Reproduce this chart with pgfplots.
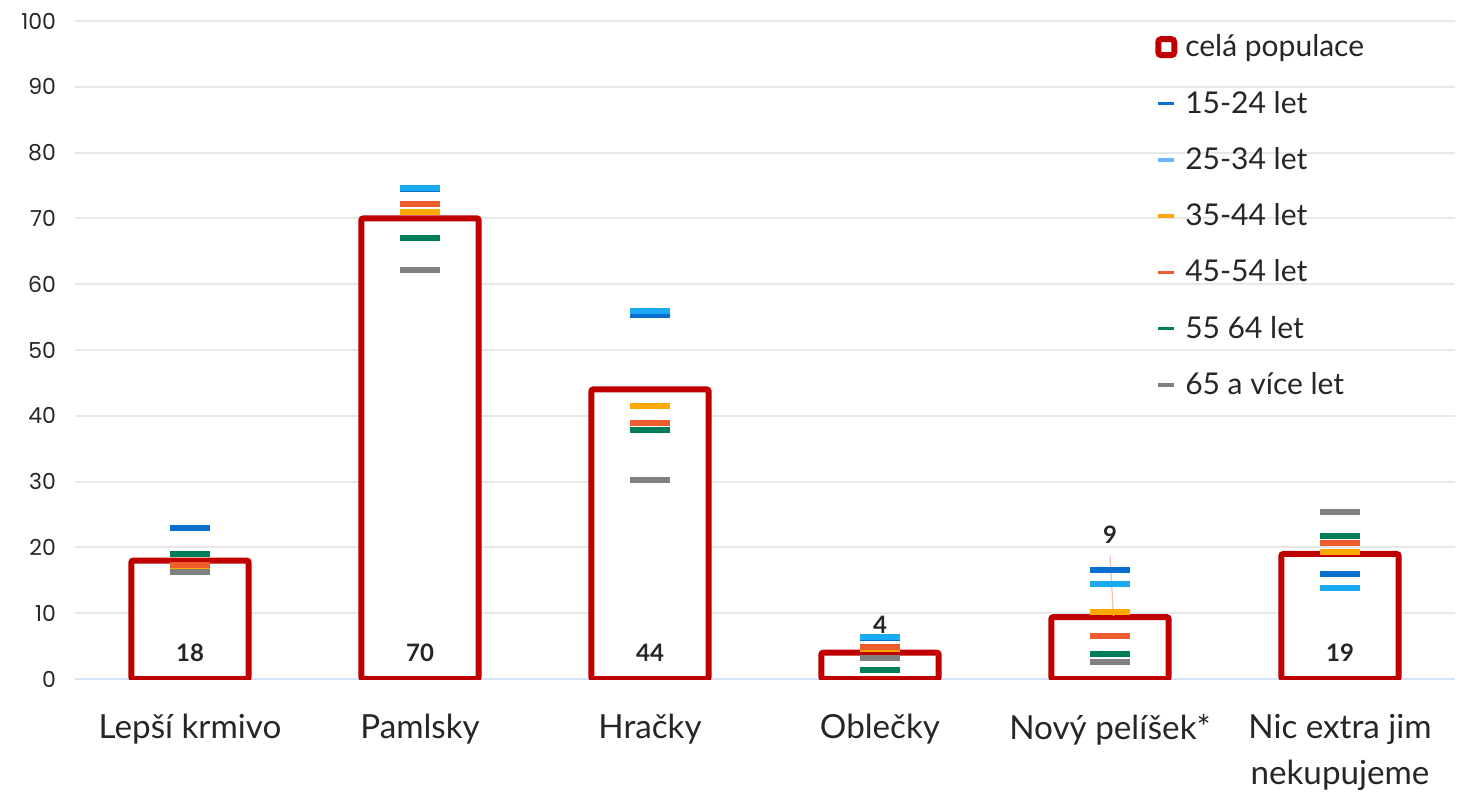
\documentclass[border=0pt]{standalone}
\usepackage{fontspec}
\setmainfont{Lato}
\newfontfamily\tickfont{Poppins}
\usepackage{pgfplots}
\pgfplotsset{compat=1.18}
\definecolor{cRed}{HTML}{C00000}
\definecolor{cA}{HTML}{0A70D0}
\definecolor{cB}{HTML}{1AAAF2}
\definecolor{cBl}{HTML}{6CB6FA}
\definecolor{cC}{HTML}{FFA800}
\definecolor{cD}{HTML}{EE5B2C}
\definecolor{cE}{HTML}{007E5A}
\definecolor{cF}{HTML}{808080}
\definecolor{cGrid}{HTML}{E8E8E8}
\definecolor{cAxis}{HTML}{D6E2F5}
\definecolor{cTxt}{HTML}{262626}
\begin{document}
\begin{tikzpicture}
\begin{axis}[
  at={(37.5pt,56.5pt)}, anchor=south west,
  scale only axis, width=690pt, height=329pt,
  xmin=-0.5, xmax=5.5, ymin=0, ymax=100,
  xtick={0,1,2,3,4,5},
  xticklabels={Lepší krmivo,Pamlsky,Hračky,Oblečky,Nový pelíšek*,{Nic extra jim\\nekupujeme}},
  ytick={0,10,...,100},
  /pgf/number format/assume math mode=true,
  major tick length=0pt,
  ymajorgrids, grid style={color=cGrid, line width=1pt},
  axis x line*=bottom, axis y line*=left,
  x axis line style={draw=cAxis, line width=1pt},
  y axis line style={draw=none},
  yticklabel style={font=\tickfont\fontsize{11}{13}\selectfont, text=cTxt, xshift=-6pt},
  xticklabel style={font=\fontsize{16.6}{23}\selectfont, text=cTxt, align=center, yshift=-14pt},
  legend style={draw=none, fill=none, at={(0.7825,0.986)}, anchor=north west,
    font=\fontsize{15}{17}\selectfont, text=cTxt, row sep=11.6pt, inner sep=0pt},
  legend cell align=left,
]
\addplot[ybar, bar shift=0pt, bar width=0.51, draw=cRed, fill=white, line width=3pt, rounded corners=1pt,
  legend image code/.code={\draw[cRed, line width=3pt, rounded corners=1.5pt, fill=white] (0pt,-4pt) rectangle (8pt,4pt); \path (10pt,0pt);}]
  coordinates {(0,18) (1,70) (2,44) (3,4) (4,9.4) (5,19)};
\addlegendentry{celá populace}
\pgfplotsset{dashleg/.style={legend image code/.code={\draw[#1, line width=1.8pt] (0pt,0pt) -- (8pt,0pt); \path (10pt,0pt);}}}
\addplot[only marks, mark=-, mark size=10pt, mark options={draw=cA, line width=3pt}, dashleg=cA]
  coordinates {(0,23) (1,74.5) (2,55.3) (3,6.2) (4,16.6) (5,16.0)};
\addlegendentry{15-24 let}
\addplot[only marks, mark=-, mark size=10pt, mark options={draw=cB, line width=3pt}, dashleg=cBl]
  coordinates {(0,17.2) (1,74.6) (2,55.9) (3,6.4) (4,14.4) (5,13.8)};
\addlegendentry{25-34 let}
\addplot[only marks, mark=-, mark size=10pt, mark options={draw=cC, line width=3pt}, dashleg=cC]
  coordinates {(0,16.9) (1,71.0) (2,41.5) (3,4.6) (4,10.2) (5,19.3)};
\addlegendentry{35-44 let}
\addplot[only marks, mark=-, mark size=10pt, mark options={draw=cD, line width=3pt}, dashleg=cD]
  coordinates {(0,17.3) (1,72.2) (2,38.9) (3,4.9) (4,6.5) (5,20.7)};
\addlegendentry{45-54 let}
\addplot[only marks, mark=-, mark size=10pt, mark options={draw=cE, line width=3pt}, dashleg=cE]
  coordinates {(0,19.0) (1,67.0) (2,37.8) (3,1.4) (4,3.8) (5,21.7)};
\addlegendentry{55 64 let}
\addplot[only marks, mark=-, mark size=10pt, mark options={draw=cF, line width=3pt}, dashleg=cF]
  coordinates {(0,16.3) (1,62.2) (2,30.2) (3,3.2) (4,2.6) (5,25.4)};
\addlegendentry{65 a více let}
\draw[color=cD!40, line width=0.6pt] (axis cs:4,18.8) -- (axis cs:4.015,9.6);
\begin{scope}[every node/.style={font=\bfseries\fontsize{12}{14}\selectfont, text=cTxt}]
\node at (axis cs:0,4) {18};
\node at (axis cs:1,4) {70};
\node at (axis cs:2,4) {44};
\node at (axis cs:3,8.2) {4};
\node at (axis cs:4,21.9) {9};
\node at (axis cs:5,4) {19};
\end{scope}
\end{axis}
\pgfresetboundingbox
\path (0,0) rectangle (735pt,396pt);
\end{tikzpicture}
\end{document}
